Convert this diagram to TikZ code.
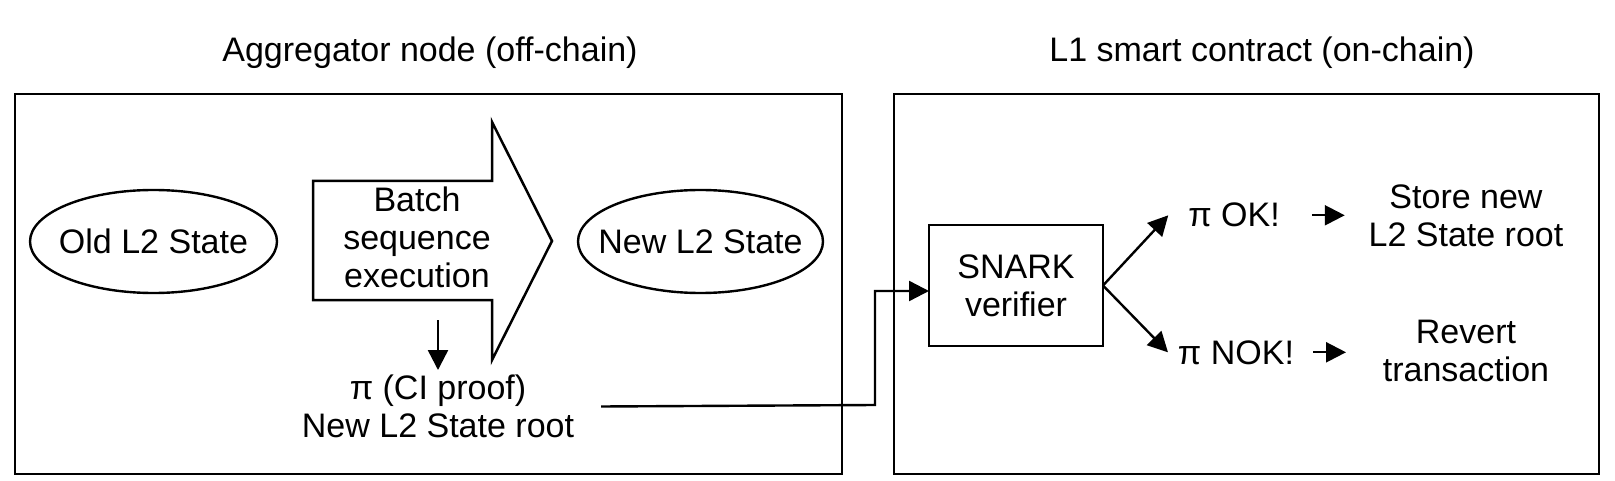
\documentclass[tikz,border=0pt]{standalone}
\usepackage{fontspec}
\setmainfont{Liberation Sans}
\usetikzlibrary{arrows.meta}
\begin{document}
\begin{tikzpicture}[x=1pt,y=-1pt,
  every node/.style={inner sep=0pt,outer sep=0pt,font=\fontsize{34}{38}\selectfont,align=center},
  ln/.style={line width=2.5pt,line join=miter},
  arr/.style={line width=2.4pt,-{Triangle[length=20pt,width=20pt]}},
  ell/.style={line width=2.4pt},
  box/.style={draw,line width=2.5pt,minimum width=174pt,minimum height=121pt}]
\useasboundingbox (0,0) rectangle (1615,481);
% frames
\draw[ln] (15,94) rectangle (842,474);
\draw[ln] (894,94) rectangle (1599,474);
% titles
\node[anchor=base] (t1) at (430,62) {Aggregator node (off-chain)};
\node[anchor=base] (t2) at (1262,62) {L1 smart contract (on-chain)};
% left part
\node (old) at (153.5,241.5) {Old L2 State};
\draw[ell] (old.center) ellipse [x radius=123.5pt, y radius=51.5pt];
\node (new) at (700.5,241.5) {New L2 State};
\draw[ell] (new.center) ellipse [x radius=122.5pt, y radius=51.5pt];
\draw[ln] (313,181) -- (492,181) -- (492,122) -- (552,241) -- (492,360) -- (492,300) -- (313,300) -- cycle;
\node (batch) at (417,237.5) {Batch\\sequence\\execution};
\node (proof) at (438,406.5) {π (CI proof)\\New L2 State root};
\draw[arr] ([yshift=55pt]proof.north) -- ([yshift=5pt]proof.north);
% right part
\node[box] (snark) at (1016,285.5) {SNARK\\verifier};
\coordinate (c1) at (875,405);
\draw[arr] ([xshift=27pt]proof.east) -- (c1) |- ([yshift=-5.5pt]snark.west);
\node[anchor=base] (ok) at (1234,227) {π OK!};
\node[anchor=base] (nok) at (1236,364) {π NOK!};
\draw[arr] (snark.east) -- ([xshift=-20pt]ok.west);
\draw[arr] (snark.east) -- ([xshift=-10pt]nok.west);
\node (store) at (1466,215.7) {Store new\\L2 State root};
\node (revert) at (1466,351) {Revert\\transaction};
\draw[arr] (ok.east) ++(32,0) -- ++(33,0);
\draw[arr] (nok.east) ++(19,0) -- ++(33,0);
\end{tikzpicture}
\end{document}
